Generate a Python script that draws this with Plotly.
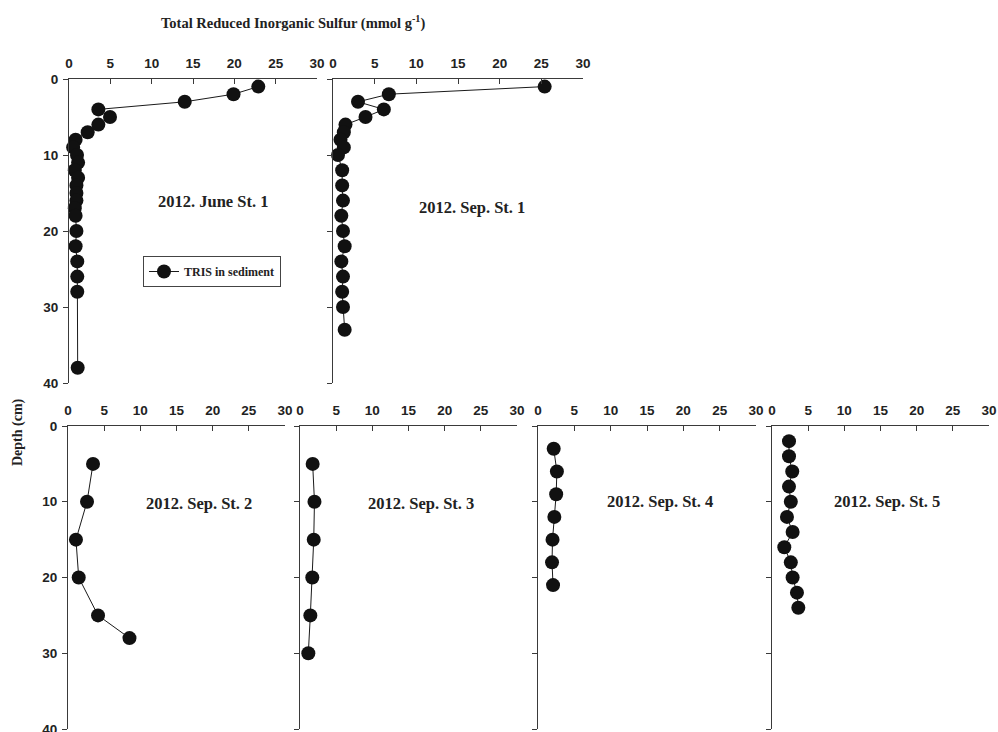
import plotly.graph_objects as go

# Depth profiles of total reduced inorganic sulfur (TRIS)
june_st1_depth = [1, 2, 3, 4, 5, 6, 7, 8, 9, 10, 11, 12, 13, 14, 15, 16, 17, 18, 20, 22, 24, 26, 28, 38]
june_st1_tris = [22.9, 19.9, 14.0, 3.55, 4.96, 3.55, 2.26, 0.8, 0.5, 0.97, 1.1, 0.7, 1.1, 0.9, 0.9, 0.9, 0.7, 0.8, 0.9, 0.8, 1.0, 1.0, 1.0, 1.05]

sep_st1_depth = [1, 2, 3, 4, 5, 6, 7, 8, 9, 10, 12, 14, 16, 18, 20, 22, 24, 26, 28, 30, 33]
sep_st1_tris = [25.4, 6.7, 3.0, 6.1, 3.9, 1.5, 1.3, 0.9, 1.3, 0.6, 1.1, 1.1, 1.2, 1.0, 1.2, 1.4, 1.0, 1.2, 1.1, 1.2, 1.4]

sep_st2_depth = [5, 10, 15, 20, 25, 28]
sep_st2_tris = [3.46, 2.63, 1.1, 1.48, 4.15, 8.5]

sep_st3_depth = [5, 10, 15, 20, 25, 30]
sep_st3_tris = [1.75, 2.0, 1.9, 1.7, 1.43, 1.15]

sep_st4_depth = [3, 6, 9, 12, 15, 18, 21]
sep_st4_tris = [2.16, 2.6, 2.5, 2.25, 2.0, 1.93, 2.07]

sep_st5_depth = [2, 4, 6, 8, 10, 12, 14, 16, 18, 20, 22, 24]
sep_st5_tris = [2.35, 2.35, 2.8, 2.35, 2.6, 2.07, 2.85, 1.7, 2.6, 2.85, 3.45, 3.64]

panel_titles = ["2012. June St. 1", "2012. Sep. St. 1", "2012. Sep. St. 2",
                "2012. Sep. St. 3", "2012. Sep. St. 4", "2012. Sep. St. 5"]
x_ticks = [0, 5, 10, 15, 20, 25, 30]
y_ticks = [0, 10, 20, 30, 40]

W, H = 998, 732
SANS = "Liberation Sans, Arial, sans-serif"
SERIF = "Liberation Serif, Times New Roman, serif"
AXC = "#3a3a3a"

# panel placement in pixels: (left, right, top, bottom)
panels = [
    (69, 317, 79, 383),
    (333, 583, 79, 383),
    (68, 285, 426, 729),
    (300, 517, 426, 729),
    (538, 756, 426, 729),
    (772, 989, 426, 729),
]
# anchor of each panel title in pixels
title_pos = [(213, 202), (472, 207), (199, 503), (421, 503), (660, 501), (887, 501)]

series = [
    (june_st1_tris, june_st1_depth),
    (sep_st1_tris, sep_st1_depth),
    (sep_st2_tris, sep_st2_depth),
    (sep_st3_tris, sep_st3_depth),
    (sep_st4_tris, sep_st4_depth),
    (sep_st5_tris, sep_st5_depth),
]
show_y_labels = [True, False, True, False, False, False]

fig = go.Figure()
layout = dict()
annotations = []

for i, ((xs, ys), (l, r, t, b)) in enumerate(zip(series, panels)):
    n = "" if i == 0 else str(i + 1)
    fig.add_trace(go.Scatter(
        x=xs, y=ys, mode="lines+markers",
        xaxis="x" + n, yaxis="y" + n,
        name="TRIS in sediment", showlegend=(i == 0),
        line=dict(color="#1a1a1a", width=1),
        marker=dict(color="#111111", size=14),
        cliponaxis=False,
    ))
    layout["xaxis" + n] = dict(
        domain=[l / W, r / W], anchor="y" + n, side="top",
        range=[0, 30], tickvals=x_ticks, ticks="inside", ticklen=5,
        tickcolor=AXC, showline=True, linecolor=AXC, linewidth=1,
        showgrid=False, zeroline=False, automargin=False,
        ticklabelstandoff=5, ticklabeloverflow="allow",
        tickfont=dict(family=SANS, size=13.5, color="#222", weight="bold"),
    )
    layout["yaxis" + n] = dict(
        domain=[1 - b / H, 1 - t / H], anchor="x" + n,
        range=[40, 0], tickvals=y_ticks, ticks="outside", ticklen=5,
        tickcolor=AXC, showline=True, linecolor=AXC, linewidth=1,
        showgrid=False, zeroline=False, automargin=False,
        showticklabels=show_y_labels[i], ticklabeloverflow="allow",
        ticklabelstandoff=2,
        tickfont=dict(family=SANS, size=13.5, color="#222", weight="bold"),
    )
    tx, ty = title_pos[i]
    annotations.append(dict(
        text=panel_titles[i], x=tx / W, y=1 - ty / H, xref="paper", yref="paper",
        showarrow=False, xanchor="center", yanchor="middle",
        font=dict(family=SERIF, size=16.5, color="#222", weight="bold"),
    ))

annotations.append(dict(
    text="Total Reduced Inorganic Sulfur (mmol g<sup>-1</sup>)",
    x=293 / W, y=1 - 22 / H, xref="paper", yref="paper",
    showarrow=False, xanchor="center", yanchor="middle",
    font=dict(family=SERIF, size=14.5, color="#222", weight="bold"),
))
annotations.append(dict(
    text="Depth (cm)", x=18 / W, y=1 - 432 / H, xref="paper", yref="paper",
    showarrow=False, xanchor="center", yanchor="middle", textangle=-90,
    font=dict(family=SERIF, size=14, color="#222", weight="bold"),
))

fig.update_layout(
    **layout,
    width=W, height=H,
    margin=dict(l=0, r=0, t=0, b=0),
    paper_bgcolor="white", plot_bgcolor="white",
    template="none",
    annotations=annotations,
    legend=dict(
        x=143 / W, y=1 - 256 / H, xanchor="left", yanchor="top",
        bordercolor="#444", borderwidth=1, bgcolor="white",
        font=dict(family=SERIF, size=12, color="#222", weight="bold"),
    ),
)

fig.write_html("out.html")
